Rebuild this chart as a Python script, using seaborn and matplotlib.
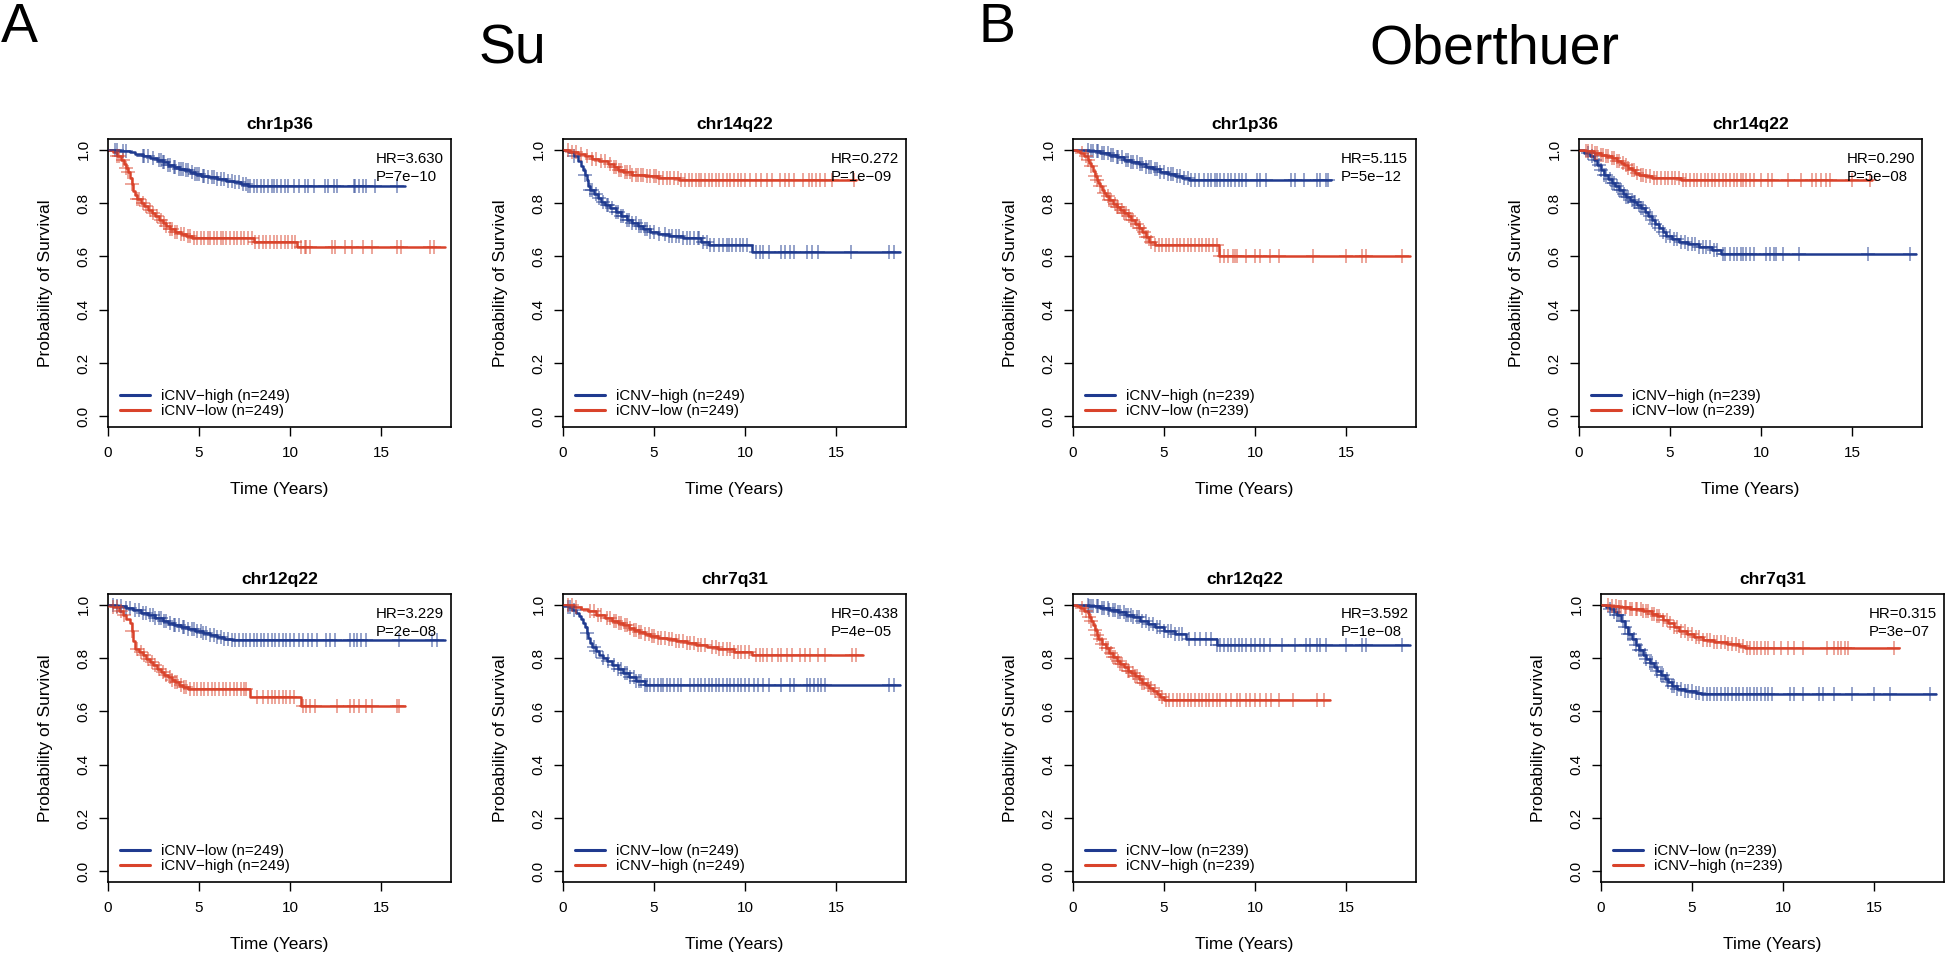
import numpy as np
import matplotlib
matplotlib.use("Agg")
import matplotlib.pyplot as plt
from matplotlib.lines import Line2D
import seaborn as sns

# ---- Su cohort ----
# chr1p36
su_1p36_high_t = [0.6, 1.2, 1.5, 1.9, 2.3, 2.7, 3.0, 3.3, 3.6, 3.9, 4.2, 4.5, 4.8, 5.1, 5.5, 6.0, 6.5, 6.9, 7.3, 7.7]
su_1p36_high_s = [0.996, 0.99, 0.984, 0.976, 0.968, 0.960, 0.952, 0.944, 0.936, 0.929, 0.922, 0.915, 0.908, 0.902, 0.896, 0.890, 0.884, 0.878, 0.870, 0.862]
su_1p36_high_end = 16.3
su_1p36_high_cens = [0.4, 0.5, 0.8, 1.0, 1.9, 2.0, 2.2, 2.5, 2.8, 2.9, 3.0, 3.1, 3.3, 3.4, 3.6, 3.7, 3.9, 4.0, 4.1, 4.3,
                     4.4, 4.6, 4.8, 4.9, 5.0, 5.2, 5.3, 5.5, 5.7, 5.8, 6.0, 6.2, 6.4, 6.6, 6.8, 7.0, 7.2, 7.4, 7.6, 7.7,
                     7.8, 8.0, 8.2, 8.4, 8.6, 8.8, 9.0, 9.1, 9.3, 9.5, 9.7, 9.9, 10.2, 10.5, 10.8, 11.0, 11.3, 11.9,
                     12.1, 12.4, 12.6, 13.5, 13.6, 13.8, 14.0, 14.2, 14.7, 15.9]
su_1p36_low_t = [0.3, 0.5, 0.7, 0.9, 1.0, 1.1, 1.2, 1.3, 1.4, 1.5, 1.6, 1.8, 2.0, 2.2, 2.4, 2.6, 2.8, 3.0, 3.2, 3.4,
                 3.7, 4.0, 4.3, 4.6, 8.0, 10.4]
su_1p36_low_s = [0.99, 0.975, 0.962, 0.948, 0.93, 0.915, 0.895, 0.87, 0.845, 0.83, 0.815, 0.80, 0.787, 0.775, 0.762,
                 0.750, 0.738, 0.726, 0.714, 0.703, 0.692, 0.683, 0.675, 0.667, 0.655, 0.636]
su_1p36_low_end = 18.5
su_1p36_low_cens = [0.5, 0.6, 0.8, 1.0, 1.1, 1.3, 1.6, 1.7, 1.9, 2.1, 2.3, 2.5, 2.7, 2.9, 3.1, 3.2, 3.4, 3.5, 3.7, 3.8,
                    4.0, 4.2, 4.4, 4.5, 4.7, 4.9, 5.1, 5.3, 5.5, 5.6, 5.8, 6.0, 6.2, 6.3, 6.5, 6.7, 6.9, 7.1, 7.3, 7.5,
                    7.7, 7.9, 8.1, 8.3, 8.5, 8.7, 8.9, 9.1, 9.3, 9.5, 9.7, 9.9, 10.1, 10.3, 10.6, 10.8, 10.9, 11.1,
                    12.3, 12.5, 13.0, 13.4, 14.0, 14.5, 15.9, 16.1, 17.7, 17.9]

# chr14q22
su_14q22_high_t = [0.3, 0.6, 0.8, 1.0, 1.1, 1.2, 1.3, 1.4, 1.5, 1.7, 1.9, 2.1, 2.3, 2.6, 2.9, 3.2, 3.5, 3.8, 4.1, 4.4,
                   4.8, 5.2, 5.8, 6.6, 7.6, 8.0, 10.4]
su_14q22_high_s = [0.99, 0.975, 0.956, 0.94, 0.925, 0.905, 0.885, 0.865, 0.848, 0.832, 0.818, 0.805, 0.793, 0.78,
                   0.766, 0.752, 0.738, 0.725, 0.713, 0.702, 0.692, 0.683, 0.675, 0.667, 0.655, 0.642, 0.617]
su_14q22_high_end = 18.5
su_14q22_high_cens = [0.6, 1.2, 1.5, 1.6, 1.8, 2.0, 2.2, 2.4, 2.5, 2.7, 2.9, 3.0, 3.2, 3.3, 3.5, 3.6, 3.8, 4.0, 4.2,
                      4.3, 4.5, 4.6, 4.8, 5.0, 5.3, 5.6, 5.8, 6.0, 6.2, 6.4, 6.6, 6.8, 7.0, 7.2, 7.4, 7.5, 7.7, 7.9,
                      8.1, 8.3, 8.6, 8.8, 9.0, 9.1, 9.3, 9.5, 9.7, 9.9, 10.1, 10.6, 10.8, 11.0, 11.3, 12.0, 12.2,
                      12.5, 12.7, 13.4, 13.7, 14.0, 15.8, 17.9, 18.2]
su_14q22_low_t = [0.4, 0.8, 1.2, 1.6, 2.0, 2.5, 2.8, 3.0, 3.3, 3.8, 4.5, 5.2, 6.4]
su_14q22_low_s = [0.993, 0.985, 0.977, 0.966, 0.956, 0.946, 0.935, 0.925, 0.915, 0.906, 0.900, 0.893, 0.887]
su_14q22_low_end = 16.1
su_14q22_low_cens = [0.3, 0.5, 0.7, 1.0, 1.3, 1.6, 1.8, 2.1, 2.3, 2.6, 2.8, 2.9, 3.1, 3.2, 3.4, 3.5, 3.7, 3.8, 4.0,
                     4.1, 4.3, 4.4, 4.6, 4.8, 5.0, 5.1, 5.3, 5.5, 5.7, 5.9, 6.1, 6.3, 6.5, 6.7, 6.9, 7.1, 7.3, 7.5,
                     7.6, 7.8, 8.0, 8.2, 8.4, 8.6, 8.8, 9.0, 9.2, 9.4, 9.6, 9.8, 10.0, 10.3, 10.6, 10.9, 11.2, 11.5,
                     11.9, 12.2, 12.4, 12.7, 13.2, 13.5, 13.7, 13.9, 14.1, 14.4, 14.8, 16.0]

# chr12q22
su_12q22_low_t = [0.5, 1.0, 1.4, 1.8, 2.2, 2.6, 3.0, 3.3, 3.6, 4.0, 4.4, 4.8, 5.2, 5.6, 6.0, 6.4, 6.8]
su_12q22_low_s = [0.995, 0.988, 0.979, 0.97, 0.96, 0.95, 0.94, 0.931, 0.923, 0.916, 0.908, 0.901, 0.894, 0.887,
                  0.880, 0.873, 0.866]
su_12q22_low_end = 18.5
su_12q22_low_cens = [0.3, 0.5, 0.7, 1.0, 1.2, 1.5, 1.7, 1.9, 2.1, 2.3, 2.5, 2.6, 2.8, 2.9, 3.1, 3.2, 3.4, 3.6, 3.7,
                     3.9, 4.1, 4.2, 4.4, 4.6, 4.7, 4.9, 5.1, 5.2, 5.4, 5.6, 5.8, 6.0, 6.2, 6.4, 6.6, 6.8, 7.0, 7.2,
                     7.4, 7.6, 7.8, 8.0, 8.2, 8.4, 8.6, 8.8, 9.0, 9.2, 9.4, 9.6, 9.8, 10.0, 10.2, 10.5, 10.7, 11.0,
                     11.2, 11.5, 12.0, 12.2, 12.5, 13.3, 13.5, 13.7, 13.9, 14.2, 16.0, 17.8, 18.1]
su_12q22_high_t = [0.3, 0.6, 0.8, 1.0, 1.2, 1.3, 1.4, 1.5, 1.7, 1.9, 2.1, 2.3, 2.5, 2.7, 2.9, 3.1, 3.3, 3.5, 3.7,
                   3.9, 4.1, 4.4, 7.8, 10.6]
su_12q22_high_s = [0.99, 0.975, 0.96, 0.945, 0.93, 0.9, 0.865, 0.835, 0.822, 0.81, 0.797, 0.785, 0.772, 0.76,
                   0.749, 0.738, 0.728, 0.718, 0.709, 0.700, 0.692, 0.682, 0.655, 0.62]
su_12q22_high_end = 16.3
su_12q22_high_cens = [0.3, 0.5, 0.7, 0.9, 1.3, 1.6, 1.8, 2.0, 2.2, 2.4, 2.6, 2.8, 3.0, 3.2, 3.4, 3.5, 3.7, 3.8, 4.0,
                      4.2, 4.3, 4.5, 4.7, 4.9, 5.1, 5.3, 5.5, 5.7, 5.9, 6.1, 6.3, 6.5, 6.7, 6.9, 7.1, 7.3, 7.5, 7.6,
                      8.2, 8.5, 8.8, 9.0, 9.2, 9.4, 9.6, 9.8, 10.0, 10.2, 10.7, 10.9, 11.1, 11.4, 12.6, 13.3, 13.5,
                      13.8, 14.2, 14.5, 15.9, 16.0]

# chr7q31
su_7q31_low_t = [0.3, 0.5, 0.7, 0.9, 1.0, 1.1, 1.2, 1.3, 1.4, 1.5, 1.6, 1.8, 2.0, 2.2, 2.4, 2.7, 3.0, 3.3, 3.6,
                 4.0, 4.5]
su_7q31_low_s = [0.99, 0.98, 0.97, 0.958, 0.945, 0.93, 0.915, 0.895, 0.875, 0.855, 0.84, 0.826, 0.812, 0.8, 0.787,
                 0.772, 0.757, 0.742, 0.728, 0.714, 0.70]
su_7q31_low_end = 18.5
su_7q31_low_cens = [0.3, 0.4, 0.6, 1.3, 1.7, 1.8, 2.2, 2.5, 2.8, 3.0, 3.2, 3.4, 3.5, 3.7, 3.9, 4.0, 4.2, 4.3, 4.5,
                    4.6, 4.8, 5.0, 5.2, 5.4, 5.5, 5.7, 5.9, 6.1, 6.3, 6.5, 7.0, 7.2, 7.4, 7.6, 7.8, 8.0, 8.2, 8.4,
                    8.6, 8.8, 9.0, 9.2, 9.4, 9.6, 9.8, 10.0, 10.2, 10.5, 10.7, 11.0, 11.3, 12.0, 12.5, 12.7, 13.4,
                    13.6, 13.8, 14.0, 14.2, 14.4, 17.9, 18.2]
su_7q31_high_t = [0.6, 1.0, 1.4, 1.8, 2.3, 2.7, 3.0, 3.3, 3.6, 3.9, 4.2, 4.5, 4.8, 5.2, 5.7, 6.2, 6.8, 7.3, 7.9,
                  8.5, 9.4, 10.4]
su_7q31_high_s = [0.993, 0.985, 0.975, 0.962, 0.95, 0.94, 0.93, 0.922, 0.913, 0.905, 0.897, 0.889, 0.882, 0.876,
                  0.870, 0.864, 0.856, 0.849, 0.84, 0.832, 0.822, 0.81]
su_7q31_high_end = 16.5
su_7q31_high_cens = [0.3, 0.5, 0.7, 1.5, 1.7, 1.9, 2.1, 2.4, 2.6, 2.8, 2.9, 3.1, 3.2, 3.4, 3.5, 3.7, 3.9, 4.0, 4.2,
                     4.3, 4.5, 4.7, 4.9, 5.0, 5.2, 5.4, 5.6, 5.8, 6.0, 6.2, 6.4, 6.6, 6.8, 7.0, 7.2, 7.4, 7.6, 7.8,
                     8.2, 8.4, 8.6, 8.8, 9.0, 9.2, 9.4, 9.6, 9.8, 10.0, 10.2, 10.6, 10.8, 11.0, 11.2, 11.5, 11.8,
                     12.0, 12.3, 12.6, 13.0, 13.3, 13.6, 14.0, 14.4, 15.9, 16.1]

# ---- Oberthuer cohort ----
# chr1p36
ob_1p36_high_t = [0.9, 1.5, 2.0, 2.4, 2.8, 3.2, 3.6, 4.0, 4.4, 4.8, 5.2, 5.6, 6.0, 6.4]
ob_1p36_high_s = [0.995, 0.988, 0.98, 0.972, 0.963, 0.954, 0.945, 0.936, 0.927, 0.918, 0.909, 0.901, 0.894, 0.887]
ob_1p36_high_end = 14.2
ob_1p36_high_cens = [0.8, 1.0, 1.1, 1.3, 1.4, 1.6, 1.7, 1.9, 2.1, 2.2, 2.4, 2.5, 2.7, 2.9, 3.0, 3.2, 3.3, 3.5, 3.7,
                     3.8, 4.0, 4.2, 4.3, 4.5, 4.6, 4.8, 5.0, 5.2, 5.4, 5.5, 5.7, 5.9, 6.1, 6.3, 6.5, 6.7, 6.9, 7.2,
                     7.4, 7.6, 7.8, 7.9, 8.1, 8.3, 8.5, 8.7, 8.9, 9.1, 9.3, 9.5, 10.1, 10.3, 10.6, 12.0, 12.2, 12.7,
                     13.4, 13.6, 13.9, 14.0]
ob_1p36_low_t = [0.2, 0.4, 0.6, 0.8, 0.9, 1.0, 1.1, 1.2, 1.3, 1.4, 1.5, 1.6, 1.7, 1.8, 2.0, 2.2, 2.4, 2.6, 2.8,
                 3.0, 3.2, 3.4, 3.6, 3.8, 4.0, 4.2, 4.5, 8.0]
ob_1p36_low_s = [0.994, 0.987, 0.975, 0.962, 0.95, 0.937, 0.92, 0.9, 0.887, 0.875, 0.862, 0.85, 0.837, 0.825, 0.81,
                 0.797, 0.785, 0.774, 0.762, 0.75, 0.737, 0.722, 0.707, 0.69, 0.672, 0.655, 0.642, 0.602]
ob_1p36_low_end = 18.5
ob_1p36_low_cens = [0.5, 0.7, 0.8, 1.0, 1.2, 1.3, 1.5, 1.7, 1.9, 2.0, 2.1, 2.3, 2.4, 2.5, 2.7, 2.8, 2.9, 3.1, 3.2,
                    3.3, 3.5, 3.6, 3.7, 3.9, 4.0, 4.1, 4.3, 4.5, 4.7, 4.9, 5.1, 5.3, 5.5, 5.7, 5.9, 6.1, 6.3, 6.5,
                    6.7, 6.9, 7.1, 7.3, 7.5, 7.7, 7.9, 8.1, 8.3, 8.5, 8.8, 8.9, 9.0, 9.5, 10.0, 10.3, 10.8, 11.3,
                    13.2, 15.0, 15.9, 16.1, 18.1]

# chr14q22
ob_14q22_high_t = [0.3, 0.6, 0.8, 1.0, 1.2, 1.4, 1.6, 1.8, 2.0, 2.2, 2.4, 2.6, 2.8, 3.0, 3.2, 3.4, 3.6, 3.8, 4.0,
                   4.2, 4.4, 4.6, 4.8, 5.1, 5.5, 6.0, 6.6, 7.3, 7.8]
ob_14q22_high_s = [0.987, 0.975, 0.962, 0.944, 0.925, 0.905, 0.89, 0.875, 0.862, 0.848, 0.835, 0.822, 0.812, 0.803,
                   0.793, 0.781, 0.768, 0.752, 0.735, 0.72, 0.705, 0.69, 0.676, 0.665, 0.655, 0.646, 0.636, 0.624,
                   0.609]
ob_14q22_high_end = 18.5
ob_14q22_high_cens = [0.5, 0.7, 0.9, 1.1, 1.2, 1.4, 1.5, 1.7, 1.8, 1.9, 2.1, 2.2, 2.3, 2.5, 2.6, 2.7, 2.9, 3.0, 3.1,
                      3.3, 3.4, 3.5, 3.7, 3.9, 4.0, 4.2, 4.4, 4.6, 4.8, 5.0, 5.2, 5.4, 5.6, 5.8, 6.0, 6.2, 6.4, 6.6,
                      6.8, 7.0, 7.2, 7.4, 7.6, 7.9, 8.0, 8.3, 8.5, 8.7, 8.9, 9.0, 9.2, 9.4, 9.6, 10.3, 10.5, 10.7,
                      10.8, 11.2, 12.1, 15.9, 18.2]
ob_14q22_low_t = [0.4, 0.8, 1.2, 1.5, 1.8, 2.1, 2.3, 2.5, 2.7, 2.9, 3.1, 3.3, 3.6, 4.0, 5.6]
ob_14q22_low_s = [0.994, 0.987, 0.981, 0.975, 0.967, 0.958, 0.95, 0.941, 0.932, 0.923, 0.914, 0.906, 0.9, 0.894,
                  0.887]
ob_14q22_low_end = 16.1
ob_14q22_low_cens = [0.4, 0.5, 0.7, 0.9, 1.0, 1.2, 1.3, 1.5, 1.6, 1.8, 1.9, 2.1, 2.2, 2.4, 2.6, 2.7, 2.9, 3.0, 3.2,
                     3.4, 3.5, 3.7, 3.9, 4.1, 4.3, 4.5, 4.7, 4.9, 5.1, 5.3, 5.5, 5.7, 5.9, 6.1, 6.3, 6.5, 6.7, 6.9,
                     7.1, 7.3, 7.5, 7.7, 7.9, 8.1, 8.3, 8.5, 8.7, 8.9, 9.0, 9.2, 9.4, 9.6, 10.0, 10.4, 10.6, 11.5,
                     12.2, 12.8, 13.0, 13.3, 13.6, 13.8, 15.0, 16.0]

# chr12q22
ob_12q22_low_t = [0.9, 1.5, 2.0, 2.5, 2.9, 3.3, 3.7, 4.1, 4.5, 5.0, 5.6, 6.2, 7.9]
ob_12q22_low_s = [0.995, 0.988, 0.98, 0.971, 0.962, 0.952, 0.94, 0.928, 0.915, 0.903, 0.89, 0.87, 0.85]
ob_12q22_low_end = 18.5
ob_12q22_low_cens = [0.8, 0.9, 1.0, 1.1, 1.3, 1.4, 1.6, 1.7, 1.9, 2.0, 2.2, 2.3, 2.5, 2.6, 2.8, 2.9, 3.0, 3.2, 3.3,
                     3.5, 3.6, 3.8, 4.0, 4.2, 4.4, 4.6, 4.8, 5.0, 5.2, 5.4, 5.6, 5.8, 6.0, 6.4, 6.7, 7.0, 7.3, 7.6,
                     7.9, 8.1, 8.3, 8.5, 8.7, 8.9, 9.1, 9.3, 9.5, 9.8, 10.0, 10.3, 10.5, 10.8, 11.5, 12.2, 12.8,
                     13.0, 13.4, 13.6, 13.9, 15.0, 15.9, 16.1, 18.1]
ob_12q22_high_t = [0.2, 0.4, 0.6, 0.8, 0.9, 1.0, 1.1, 1.2, 1.3, 1.4, 1.6, 1.8, 2.0, 2.2, 2.4, 2.6, 2.8, 3.0, 3.2,
                   3.4, 3.6, 3.8, 4.0, 4.2, 4.4, 4.6, 4.8, 5.0]
ob_12q22_high_s = [0.994, 0.987, 0.978, 0.969, 0.955, 0.94, 0.922, 0.905, 0.887, 0.87, 0.852, 0.836, 0.82, 0.805,
                   0.79, 0.777, 0.765, 0.753, 0.742, 0.731, 0.72, 0.708, 0.697, 0.686, 0.675, 0.664, 0.654, 0.643]
ob_12q22_high_end = 14.1
ob_12q22_high_cens = [0.5, 0.7, 0.9, 1.0, 1.2, 1.3, 1.5, 1.6, 1.8, 1.9, 2.1, 2.2, 2.3, 2.5, 2.6, 2.7, 2.9, 3.0, 3.1,
                      3.3, 3.4, 3.5, 3.7, 3.8, 3.9, 4.1, 4.3, 4.5, 4.7, 4.9, 5.1, 5.3, 5.5, 5.7, 5.9, 6.1, 6.3, 6.5,
                      6.7, 6.9, 7.1, 7.3, 7.5, 7.7, 7.9, 8.1, 8.4, 8.7, 9.0, 9.2, 9.5, 9.7, 10.0, 10.3, 10.6, 10.9,
                      11.3, 12.1, 13.4, 13.8]

# chr7q31
ob_7q31_low_t = [0.3, 0.5, 0.7, 0.9, 1.1, 1.3, 1.5, 1.7, 1.9, 2.1, 2.3, 2.5, 2.7, 2.9, 3.1, 3.3, 3.5, 3.7, 3.9,
                 4.2, 4.6, 5.2, 5.5]
ob_7q31_low_s = [0.991, 0.982, 0.972, 0.96, 0.94, 0.915, 0.89, 0.87, 0.85, 0.83, 0.812, 0.795, 0.78, 0.765, 0.75,
                 0.737, 0.723, 0.709, 0.695, 0.684, 0.676, 0.67, 0.665]
ob_7q31_low_end = 18.4
ob_7q31_low_cens = [0.5, 0.7, 0.9, 1.0, 1.2, 1.3, 1.5, 1.6, 1.8, 1.9, 2.1, 2.2, 2.4, 2.5, 2.7, 2.8, 3.0, 3.1, 3.3,
                    3.4, 3.6, 3.7, 3.9, 4.0, 4.2, 4.4, 4.6, 4.8, 5.0, 5.2, 5.4, 5.6, 5.8, 6.0, 6.2, 6.4, 6.6, 6.8,
                    7.0, 7.2, 7.4, 7.6, 7.8, 8.0, 8.2, 8.4, 8.6, 8.8, 9.0, 9.2, 9.4, 10.4, 10.6, 11.1, 12.0, 12.2,
                    12.8, 13.8, 15.0, 15.9, 18.1]
ob_7q31_high_t = [0.5, 1.0, 1.6, 2.3, 2.8, 3.1, 3.4, 3.7, 4.0, 4.3, 4.7, 5.1, 5.6, 6.2, 6.9, 7.6, 7.9]
ob_7q31_high_s = [0.996, 0.99, 0.983, 0.975, 0.966, 0.956, 0.944, 0.93, 0.915, 0.902, 0.89, 0.879, 0.869, 0.86,
                  0.851, 0.844, 0.836]
ob_7q31_high_end = 16.4
ob_7q31_high_cens = [0.4, 0.6, 0.8, 1.0, 1.1, 1.3, 1.4, 1.6, 1.7, 1.9, 2.0, 2.2, 2.3, 2.5, 2.6, 2.8, 2.9, 3.1, 3.2,
                     3.4, 3.6, 3.8, 4.0, 4.2, 4.4, 4.6, 4.8, 5.0, 5.2, 5.4, 5.6, 5.8, 6.0, 6.2, 6.4, 6.6, 6.8, 7.0,
                     7.2, 7.4, 7.6, 7.8, 8.0, 8.2, 8.4, 8.6, 8.8, 9.0, 9.2, 9.5, 9.9, 10.3, 10.6, 11.1, 12.4, 12.8,
                     13.0, 13.2, 13.4, 13.6, 16.1]

titles = ["chr1p36", "chr14q22", "chr12q22", "chr7q31"]
su_hr = ["HR=3.630", "HR=0.272", "HR=3.229", "HR=0.438"]
su_p = ["P=7e\u221210", "P=1e\u221209", "P=2e\u221208", "P=4e\u221205"]
ob_hr = ["HR=5.115", "HR=0.290", "HR=3.592", "HR=0.315"]
ob_p = ["P=5e\u221212", "P=5e\u221208", "P=1e\u221208", "P=3e\u221207"]
su_n = 249
ob_n = 239

BLUE = "#1f3a8f"
RED = "#d9432b"

sns.set_style("white")
plt.rcParams["font.family"] = ["Liberation Sans", "DejaVu Sans"]
plt.rcParams["text.color"] = "black"
plt.rcParams["axes.labelcolor"] = "black"
plt.rcParams["xtick.color"] = "black"
plt.rcParams["ytick.color"] = "black"


def curve(t, s, end):
    xs = [0.0] + list(t) + [end]
    ys = [1.0] + list(s) + [s[-1]]
    return xs, ys


def surv_at(t, s, times):
    idx = np.searchsorted(np.asarray(t), np.asarray(times), side="right")
    levels = np.concatenate([[1.0], s])
    return levels[idx]


# (blue curve, red curve, blue label, red label, title index, hr, p, n)
panels = [
    ((su_1p36_high_t, su_1p36_high_s, su_1p36_high_end, su_1p36_high_cens),
     (su_1p36_low_t, su_1p36_low_s, su_1p36_low_end, su_1p36_low_cens), "high", "low", 0, su_hr[0], su_p[0], su_n),
    ((su_14q22_high_t, su_14q22_high_s, su_14q22_high_end, su_14q22_high_cens),
     (su_14q22_low_t, su_14q22_low_s, su_14q22_low_end, su_14q22_low_cens), "high", "low", 1, su_hr[1], su_p[1], su_n),
    ((ob_1p36_high_t, ob_1p36_high_s, ob_1p36_high_end, ob_1p36_high_cens),
     (ob_1p36_low_t, ob_1p36_low_s, ob_1p36_low_end, ob_1p36_low_cens), "high", "low", 0, ob_hr[0], ob_p[0], ob_n),
    ((ob_14q22_high_t, ob_14q22_high_s, ob_14q22_high_end, ob_14q22_high_cens),
     (ob_14q22_low_t, ob_14q22_low_s, ob_14q22_low_end, ob_14q22_low_cens), "high", "low", 1, ob_hr[1], ob_p[1], ob_n),
    ((su_12q22_low_t, su_12q22_low_s, su_12q22_low_end, su_12q22_low_cens),
     (su_12q22_high_t, su_12q22_high_s, su_12q22_high_end, su_12q22_high_cens), "low", "high", 2, su_hr[2], su_p[2], su_n),
    ((su_7q31_low_t, su_7q31_low_s, su_7q31_low_end, su_7q31_low_cens),
     (su_7q31_high_t, su_7q31_high_s, su_7q31_high_end, su_7q31_high_cens), "low", "high", 3, su_hr[3], su_p[3], su_n),
    ((ob_12q22_low_t, ob_12q22_low_s, ob_12q22_low_end, ob_12q22_low_cens),
     (ob_12q22_high_t, ob_12q22_high_s, ob_12q22_high_end, ob_12q22_high_cens), "low", "high", 2, ob_hr[2], ob_p[2], ob_n),
    ((ob_7q31_low_t, ob_7q31_low_s, ob_7q31_low_end, ob_7q31_low_cens),
     (ob_7q31_high_t, ob_7q31_high_s, ob_7q31_high_end, ob_7q31_high_cens), "low", "high", 3, ob_hr[3], ob_p[3], ob_n),
]

W, H = 1946, 957
fig = plt.figure(figsize=(W / 100, H / 100), dpi=100)

# axes boxes in pixels: left, top
boxes = [(108, 139), (563, 139), (1073, 139), (1579, 139),
         (108, 594), (563, 594), (1073, 594), (1601, 594)]
bw, bh = 343, 288

for (blue, red, blab, rlab, ti, hr, p, n), (lx, ty) in zip(panels, boxes):
    ax = fig.add_axes([lx / W, 1 - (ty + bh) / H, bw / W, bh / H])
    for (t, s, end, cens), col in ((blue, BLUE), (red, RED)):
        xs, ys = curve(t, s, end)
        sns.lineplot(x=xs, y=ys, drawstyle="steps-post", color=col, lw=1.8,
                     estimator=None, sort=False, ax=ax)
        cy = surv_at(t, s, cens)
        sns.scatterplot(x=cens, y=cy, marker="+", color=col, s=95, linewidth=1.1,
                        alpha=0.6, ax=ax, zorder=3)

    ax.set_xlim(0, 18.85)
    ax.set_ylim(-0.04, 1.04)
    ax.set_xticks([0, 5, 10, 15])
    ax.set_yticks([0.0, 0.2, 0.4, 0.6, 0.8, 1.0])
    ax.set_yticklabels(["0.0", "0.2", "0.4", "0.6", "0.8", "1.0"], rotation=90, va="center")
    ax.tick_params(axis="both", direction="out", length=6.5, width=1, labelsize=11,
                   color="black", bottom=True, left=True)
    ax.tick_params(axis="x", pad=7)
    ax.tick_params(axis="y", pad=6)
    for sp in ax.spines.values():
        sp.set_visible(True)
        sp.set_color("black")
        sp.set_linewidth(1.2)

    ax.set_title(titles[ti], fontsize=12.5, fontweight="bold", pad=7)
    ax.set_xlabel("Time (Years)", fontsize=12.5)
    ax.set_ylabel("Probability of Survival", fontsize=12.5)
    ax.xaxis.set_label_coords(0.5, -0.19)
    ax.yaxis.set_label_coords(-0.16, 0.5)

    ax.text(0.781, 0.930, hr, transform=ax.transAxes, ha="left", va="center", fontsize=10.8)
    ax.text(0.781, 0.868, p, transform=ax.transAxes, ha="left", va="center", fontsize=10.8)

    handles = [Line2D([], [], color=BLUE, lw=2.2), Line2D([], [], color=RED, lw=2.2)]
    labels = [f"iCNV\u2212{blab} (n={n})", f"iCNV\u2212{rlab} (n={n})"]
    ax.legend(handles, labels, loc="lower left", bbox_to_anchor=(0.035, 0.03), frameon=False,
              fontsize=10.8, handlelength=2.0, handletextpad=0.75, labelspacing=0.08,
              borderpad=0, borderaxespad=0)

fig.text(1 / W, 1 - 42 / H, "A", fontsize=40, va="baseline", ha="left")
fig.text(512 / W, 1 - 64 / H, "Su", fontsize=40, va="baseline", ha="center")
fig.text(978 / W, 1 - 42 / H, "B", fontsize=40, va="baseline", ha="left")
fig.text(1494 / W, 1 - 64 / H, "Oberthuer", fontsize=40, va="baseline", ha="center")

fig.savefig("out.png", dpi=100, facecolor="white")
